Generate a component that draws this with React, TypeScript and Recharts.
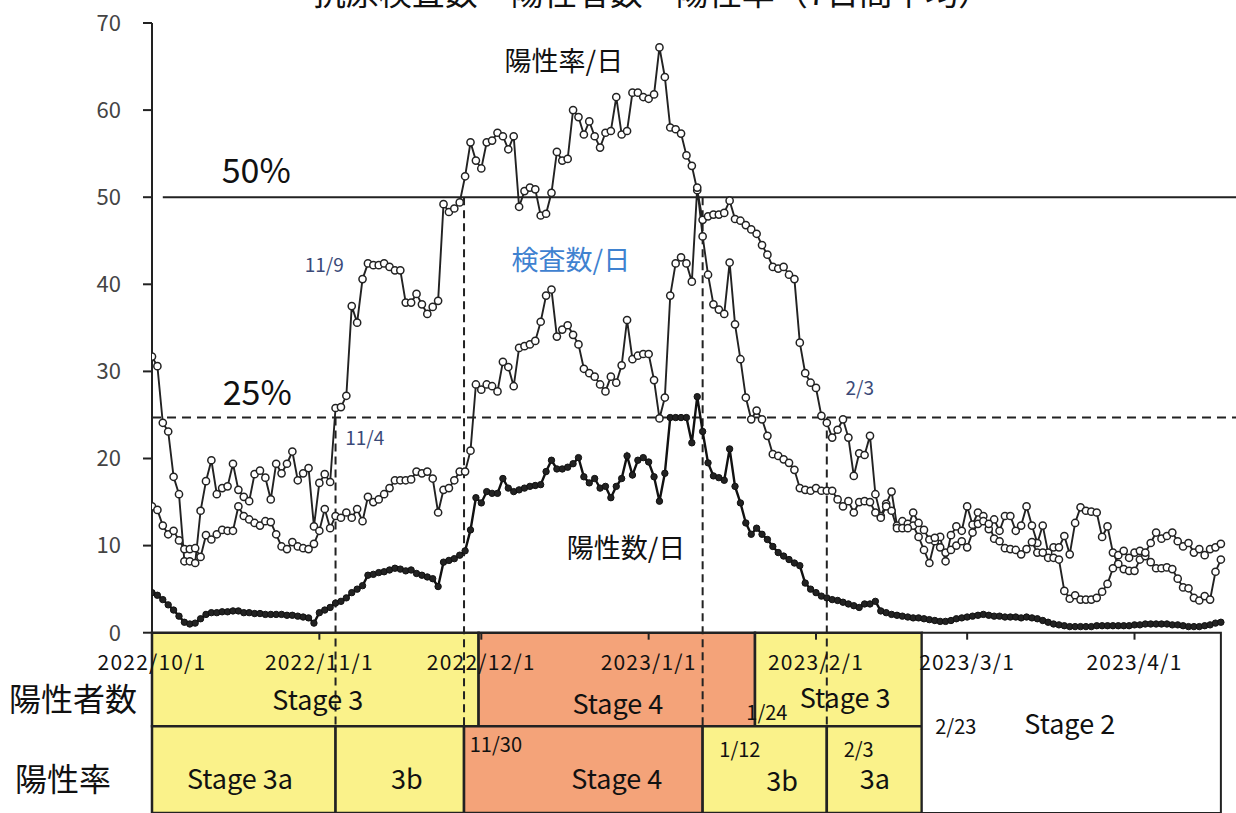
import React from "react";
import {
  ComposedChart,
  Line,
  XAxis,
  YAxis,
  ReferenceLine,
  ReferenceArea,
  ReferenceDot,
} from "recharts";

const FONT = '"Noto Sans CJK JP", "Noto Sans", sans-serif';
const YELLOW = "#FAF28A";
const ORANGE = "#F4A379";
const INK = "#222";

// day 0 = 2022/10/1
const monthTicks = [0, 31, 61, 92, 123, 151, 182];
const monthLabels = ["2022/10/1", "2022/11/1", "2022/12/1", "2023/1/1", "2023/2/1", "2023/3/1", "2023/4/1"];
const yTicks = [0, 10, 20, 30, 40, 50, 60, 70];

// 陽性率/日 (%)
const rateValues = [
  31.7, 30.6, 24.1, 23.1, 17.9, 15.9, 8.2, 8.2, 8.0, 14.0,
  17.4, 19.8, 15.9, 16.6, 16.8, 19.4, 16.4, 15.6, 15.1, 18.2,
  18.6, 17.8, 15.3, 19.4, 18.3, 19.4, 20.8, 17.5, 18.3, 18.9,
  12.2, 17.2, 18.2, 17.3, 25.8, 25.9, 27.2, 37.5, 35.6, 40.6,
  42.4, 42.2, 42.2, 42.4, 42.0, 41.6, 41.6, 37.9, 37.9, 38.9,
  37.7, 36.6, 37.4, 38.1,
  49.2, 48.3, 48.7, 49.4, 52.4, 56.3, 54.2, 53.3, 56.3, 56.5,
  57.4, 57.0, 55.5, 57.0, 48.9, 50.7, 51.1, 50.9, 47.9, 48.1,
  50.5, 55.2, 54.2, 54.4, 60.0, 59.2, 57.2, 58.7, 57.0, 55.7,
  57.4, 57.6, 61.5, 57.2, 57.6, 62.0, 62.0, 61.5, 61.3, 61.8,
  67.2,
  63.8, 58.0, 57.8, 57.3, 54.8, 53.6, 50.8, 47.4, 47.8, 48.0, 48.0, 48.2,
  49.6, 47.5, 47.3, 46.8, 46.3, 45.8, 44.5, 43.4, 42.0, 41.8, 42.0, 41.1, 40.6,
  33.3, 29.8, 28.7, 28.1, 24.9, 24.1, 22.4, 23.3, 24.5, 22.4,
  18.0, 20.6, 20.4, 22.6, 15.9, 13.4, 14.8, 16.2, 12.3, 12.8,
  12.5, 12.3, 11.0, 9.5, 8.0, 10.5, 11.0,
  8.2, 11.2, 12.2, 11.7, 14.5, 12.4, 13.8, 13.4, 11.9, 13.0,
  11.7, 13.4, 13.4, 11.7, 12.3, 14.5, 12.3, 10.3, 12.3, 9.2,
  9.8, 9.8, 11.1, 9.0, 12.6, 14.4, 14.0, 13.9, 13.8, 11.0,
  12.2, 9.2, 7.9, 7.3, 7.1, 7.1, 8.4, 8.8, 8.1, 7.4,
  7.4, 7.5, 7.3, 6.2, 5.2, 5.1, 4.0, 3.7, 4.2, 3.8,
  7.0, 8.4,
];

// 検査数/日 (x100)
const testValues = [
  14.5, 14.1, 12.3, 11.3, 11.7, 10.6, 9.6, 9.6, 9.7, 8.7,
  11.2, 10.7, 11.3, 11.8, 11.7, 11.7, 14.5, 13.4, 13.0, 12.6,
  12.3, 12.8, 12.7, 11.3, 9.9, 9.6, 10.4, 9.9, 9.7, 9.6,
  10.2, 11.7, 14.2, 12.0, 13.4, 13.2, 13.8, 13.2, 14.2, 12.8,
  15.6, 15.0, 15.3, 15.9, 16.6, 17.5, 17.5, 17.5, 17.6,
  18.5, 18.3, 18.5, 17.7, 13.8, 16.4, 16.6, 17.5, 18.5, 18.5,
  20.9, 28.5, 27.9, 28.5, 28.3, 27.7, 31.1, 30.5, 28.3, 32.7,
  32.9, 33.1, 33.5, 35.7, 38.7, 39.4, 34.0, 34.8, 35.3, 34.2,
  33.1, 30.3, 29.8, 29.4, 28.5, 27.7, 29.4, 28.7, 30.7, 35.9,
  31.4, 31.8, 32.0, 32.0, 29.0, 24.6, 27.0, 38.7, 42.4, 43.1,
  42.4, 40.3,
  51.1, 45.5, 41.1, 37.7, 37.1, 36.6, 42.5,
  35.4, 31.4, 27.0, 24.5, 25.5, 24.5, 22.6, 20.5, 20.3, 19.9, 19.5, 18.7,
  16.6, 16.4, 16.3, 16.6, 16.3, 16.3, 16.3, 15.3, 14.5, 15.1,
  13.8, 15.0, 15.1, 15.0, 13.8, 13.2, 14.5, 14.0, 12.0, 12.0,
  12.0, 13.8, 12.6, 11.8, 10.7, 10.9, 9.8,
  9.2, 9.5, 10.0, 10.5, 9.8, 11.5, 12.5, 12.8, 12.5, 10.8,
  10.5, 9.7, 9.6, 9.5, 9.0, 9.6, 10.4, 9.2, 9.2, 8.6,
  8.6, 8.4, 4.8, 3.9, 4.3, 3.8, 3.8, 3.8, 4.0, 4.7,
  5.6, 7.4, 8.9, 9.4, 8.6, 9.2, 9.4, 9.2, 10.3, 11.5,
  10.8, 11.1, 11.5, 10.5, 9.9, 10.3, 9.2, 9.6, 8.9, 9.6,
  9.8, 10.2,
];

// 陽性数/日 (x100)
const positiveValues = [
  4.6, 4.3, 3.8, 3.2, 2.6, 1.9, 1.2, 1.0, 1.1, 1.6,
  2.1, 2.3, 2.3, 2.4, 2.4, 2.5, 2.5, 2.3, 2.3, 2.2,
  2.2, 2.1, 2.1, 2.1, 2.1, 2.0, 2.0, 1.9, 1.8, 1.7,
  1.1, 2.3, 2.6, 2.9, 3.4, 3.6, 4.0, 4.6, 5.0, 5.4,
  6.6, 6.7, 6.9, 7.0, 7.2, 7.4, 7.3, 7.1, 7.2, 6.8,
  6.6, 6.4, 6.2, 5.3, 8.1, 8.3, 8.5, 8.9, 9.4, 11.8,
  15.5, 14.9, 16.2, 16.0, 16.0, 17.7, 16.6, 16.2, 16.4, 16.6,
  16.8, 16.9, 17.0, 18.5, 19.8, 18.8, 18.8, 19.0, 19.4, 20.1,
  17.9, 17.2, 17.7, 16.6, 16.8, 15.5, 16.8, 17.7, 20.3, 18.1,
  19.8, 20.1, 19.6, 17.9, 15.1, 18.3, 24.7, 24.7, 24.7, 24.7,
  21.8, 27.1, 23.1, 19.5, 18.0, 17.8, 17.5, 21.1, 16.8, 14.9,
  12.6, 11.3, 12.0, 11.3, 10.7, 9.9, 9.2, 8.8, 8.4, 8.0,
  7.7, 5.7, 5.0, 4.6, 4.2, 4.0, 3.8, 3.7, 3.5, 3.3,
  3.1, 2.9, 3.3, 3.3, 3.6, 2.5, 2.3, 2.1, 2.0, 1.9,
  1.8, 1.7, 1.7, 1.6, 1.5, 1.4, 1.3, 1.3, 1.4, 1.6,
  1.7, 1.8, 1.9, 2.0, 2.1, 2.0, 1.9, 1.9, 1.8, 1.8,
  1.8, 1.7, 1.8, 1.7, 1.6, 1.4, 1.2, 1.0, 0.9, 0.8,
  0.7, 0.7, 0.7, 0.7, 0.7, 0.8, 0.8, 0.8, 0.8, 0.8,
  0.8, 0.8, 0.9, 0.9, 1.0, 1.0, 1.0, 1.0, 1.0, 0.9,
  0.9, 0.8, 0.7, 0.7, 0.7, 0.8, 0.9, 1.1, 1.2,
];

// ステージ判定 (day ranges)
const caseStages = [
  { from: 0, to: 60.5, color: YELLOW },
  { from: 60.5, to: 111.7, color: ORANGE },
  { from: 111.7, to: 142.6, color: YELLOW },
];
const rateStages = [
  { from: 0, to: 34, color: YELLOW },
  { from: 34, to: 57.8, color: YELLOW },
  { from: 57.8, to: 102, color: ORANGE },
  { from: 102, to: 125, color: YELLOW },
  { from: 125, to: 142.6, color: YELLOW },
];
const stage2Range = [142.6, 198];

// 判定日の縦線 [day, top value]
const markerLines = [
  [34, 24.7],
  [57.8, 50],
  [102, 50],
  [125, 24.7],
];

const ROW1_BOTTOM = -10.75;
const Y_MIN = -20.7;

const notes = [
  { day: 19.3, value: 53.3, text: "50%", size: 34, color: "#111" },
  { day: 19.5, value: 27.8, text: "25%", size: 34, color: "#111" },
  { day: 76.3, value: 65.8, text: "陽性率/日", size: 27, color: "#111" },
  { day: 77.6, value: 43.0, text: "検査数/日", size: 27, color: "#3f82d0" },
  { day: 87.8, value: 9.9, text: "陽性数/日", size: 27, color: "#111" },
  { day: 31.9, value: 42.4, text: "11/9", size: 19, color: "#3b4a78" },
  { day: 39.4, value: 22.5, text: "11/4", size: 19, color: "#3b4a78" },
  { day: 131.1, value: 28.3, text: "2/3", size: 19, color: "#3b4a78" },
  { day: 30.7, value: -7.6, text: "Stage 3", size: 27, color: "#111" },
  { day: 86.3, value: -8.0, text: "Stage 4", size: 27, color: "#111" },
  { day: 128.4, value: -7.3, text: "Stage 3", size: 27, color: "#111" },
  { day: 170, value: -10.3, text: "Stage 2", size: 27, color: "#111" },
  { day: 113.9, value: -9.0, text: "1/24", size: 20, color: "#111" },
  { day: 148.9, value: -10.7, text: "2/23", size: 20, color: "#111" },
  { day: 16.3, value: -16.6, text: "Stage 3a", size: 27, color: "#111" },
  { day: 47.2, value: -16.6, text: "3b", size: 27, color: "#111" },
  { day: 63.7, value: -12.7, text: "11/30", size: 20, color: "#111" },
  { day: 86.1, value: -16.6, text: "Stage 4", size: 27, color: "#111" },
  { day: 108.9, value: -13.3, text: "1/12", size: 20, color: "#111" },
  { day: 116.7, value: -16.8, text: "3b", size: 27, color: "#111" },
  { day: 130.9, value: -13.3, text: "2/3", size: 20, color: "#111" },
  { day: 133.9, value: -16.6, text: "3a", size: 27, color: "#111" },
];

const data = positiveValues.map((p, i) => ({
  day: i,
  rate: rateValues[i],
  tests: testValues[i],
  positive: p,
}));

function textShape(text: string, size: number, color: string, spacing = 0) {
  return (p: any) => (
    <text
      x={p.cx}
      y={p.cy}
      textAnchor="middle"
      dominantBaseline="central"
      fontSize={size}
      fill={color}
      fontFamily={FONT}
      letterSpacing={spacing}
    >
      {text}
    </text>
  );
}

export default function App() {
  return (
    <div
      style={{
        position: "absolute",
        left: 0,
        top: 0,
        width: 1236,
        height: 813,
        overflow: "hidden",
        background: "#fff",
        fontFamily: FONT,
      }}
    >
      <div
        style={{
          position: "absolute",
          left: 0,
          width: 1304,
          top: -27,
          textAlign: "center",
          fontSize: 33,
          lineHeight: "36px",
          color: "#111",
          whiteSpace: "nowrap",
        }}
      >
        抗原検査数　陽性者数　陽性率（7日間平均）
      </div>
      <div style={{ position: "absolute", left: 9, top: 678, fontSize: 32, lineHeight: "38px", color: "#111" }}>
        陽性者数
      </div>
      <div style={{ position: "absolute", left: 15, top: 758, fontSize: 32, lineHeight: "38px", color: "#111" }}>
        陽性率
      </div>
      <div style={{ position: "absolute", left: 0, top: 0 }}>
        <ComposedChart width={1236} height={813} data={data} margin={{ top: 23, right: 0, bottom: 0, left: 0 }}>
          <XAxis type="number" dataKey="day" domain={[0, 200.8]} hide allowDataOverflow />
          <YAxis
            type="number"
            domain={[Y_MIN, 70]}
            ticks={yTicks}
            width={152}
            tickSize={9}
            tickMargin={22}
            allowDataOverflow
            axisLine={{ stroke: INK, strokeWidth: 2 }}
            tickLine={{ stroke: INK, strokeWidth: 2 }}
            tick={{ fill: "#444", fontSize: 22, fontFamily: FONT }}
          />
          {caseStages.map((s, i) => (
            <ReferenceArea
              key={"c" + i}
              x1={s.from}
              x2={s.to}
              y1={ROW1_BOTTOM}
              y2={0}
              fill={s.color}
              fillOpacity={1}
              stroke={INK}
              strokeWidth={2.5}
              ifOverflow="visible"
            />
          ))}
          {rateStages.map((s, i) => (
            <ReferenceArea
              key={"r" + i}
              x1={s.from}
              x2={s.to}
              y1={Y_MIN}
              y2={ROW1_BOTTOM}
              fill={s.color}
              fillOpacity={1}
              stroke={INK}
              strokeWidth={2.5}
              ifOverflow="visible"
            />
          ))}
          <ReferenceArea
            x1={stage2Range[0]}
            x2={stage2Range[1]}
            y1={Y_MIN}
            y2={0}
            fill="#fff"
            fillOpacity={1}
            stroke={INK}
            strokeWidth={2}
            ifOverflow="visible"
          />
          <ReferenceLine
            segment={[{ x: 2, y: 50 }, { x: 200.8, y: 50 }]}
            stroke={INK}
            strokeWidth={2}
          />
          <ReferenceLine y={24.7} stroke={INK} strokeWidth={2} strokeDasharray="9 6" />
          {markerLines.map(([d, top], i) => (
            <ReferenceLine
              key={"m" + i}
              segment={[{ x: d, y: top }, { x: d, y: ROW1_BOTTOM }]}
              stroke={INK}
              strokeWidth={2}
              strokeDasharray="8 5"
              ifOverflow="visible"
            />
          ))}
          {monthTicks.map((d, i) => (
            <ReferenceLine
              key={"t" + i}
              segment={[{ x: d, y: 0 }, { x: d, y: -0.8 }]}
              stroke={INK}
              strokeWidth={2}
            />
          ))}
          {monthTicks.map((d, i) => (
            <ReferenceDot
              key={"tl" + i}
              x={d}
              y={-3.3}
              r={0}
              ifOverflow="visible"
              shape={textShape(monthLabels[i], 21, "#111", 1.2)}
            />
          ))}
          <Line
            dataKey="rate"
            type="linear"
            stroke={INK}
            strokeWidth={1.9}
            dot={{ r: 3.6, fill: "#fff", stroke: INK, strokeWidth: 1.5 }}
            activeDot={false}
            isAnimationActive={false}
          />
          <Line
            dataKey="tests"
            type="linear"
            stroke={INK}
            strokeWidth={1.9}
            dot={{ r: 3.6, fill: "#fff", stroke: INK, strokeWidth: 1.5 }}
            activeDot={false}
            isAnimationActive={false}
          />
          <Line
            dataKey="positive"
            type="linear"
            stroke="#111"
            strokeWidth={2.4}
            dot={{ r: 3.2, fill: "#222", stroke: "#111", strokeWidth: 1 }}
            activeDot={false}
            isAnimationActive={false}
          />
          {notes.map((n, i) => (
            <ReferenceDot
              key={"n" + i}
              x={n.day}
              y={n.value}
              r={0}
              ifOverflow="visible"
              shape={textShape(n.text, n.size, n.color)}
            />
          ))}
        </ComposedChart>
      </div>
    </div>
  );
}
